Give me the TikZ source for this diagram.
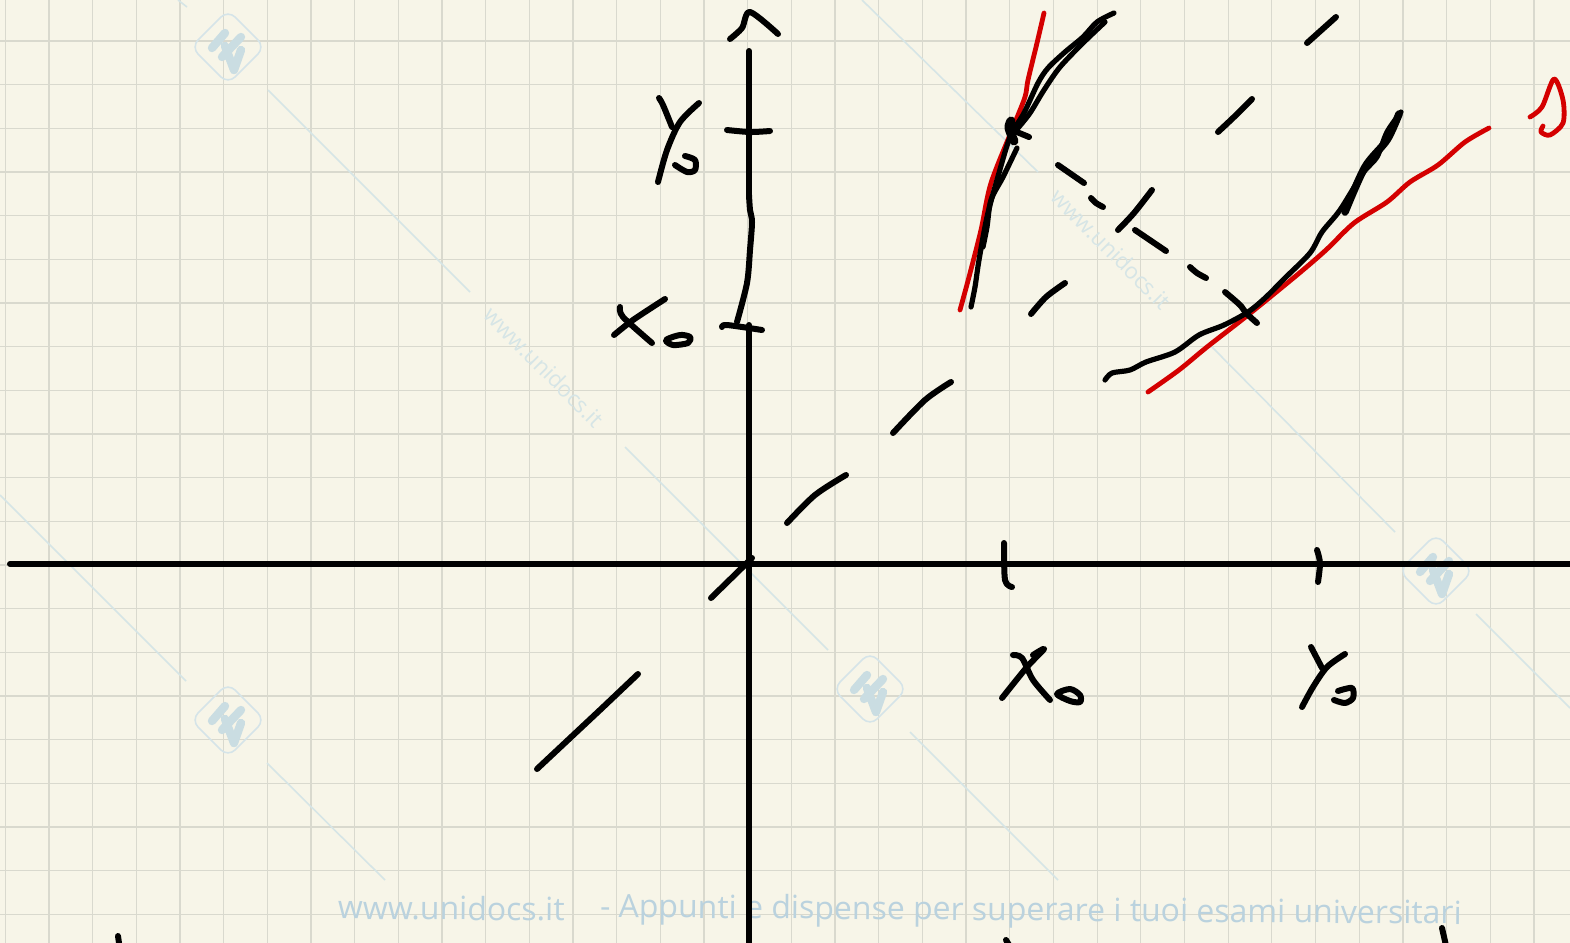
\documentclass[tikz,border=0pt]{standalone}
\usepackage{fontspec}
\setmainfont{Open Sans}
\definecolor{paperBack}{HTML}{F7F5E8}
\definecolor{gridGray}{HTML}{D9D9CE}
\definecolor{markBlue}{HTML}{D6E5E6}
\definecolor{logoBlue}{HTML}{CADDE2}
\definecolor{footBlue}{HTML}{BAD2DE}
\definecolor{inkRed}{HTML}{D40000}
\tikzset{
  gridline/.style={gridGray, line width=0.65pt},
  markline/.style={markBlue, line width=0.8pt},
  ink/.style={black, line width=3pt, line cap=round, line join=round},
  thinink/.style={ink, line width=2.6pt},
  redink/.style={inkRed, line width=2.4pt, line cap=round, line join=round},
  marktext/.style={markBlue, font=\fontsize{11.2}{14}\selectfont, rotate=-45},
  foottext/.style={footBlue, font=\fontsize{16}{18}\selectfont, rotate=-0.45, anchor=west}
}
\begin{document}
\begin{tikzpicture}[x=0.5pt, y=-0.5pt]
  \useasboundingbox (0,0) rectangle (1570,943);
  \fill[paperBack] (0,0) rectangle (1570,943);
  \clip (0,0) rectangle (1570,943);

  % paper grid
  \foreach \k in {0,...,35} {
    \draw[gridline] ({5.4+43.67*\k},0) -- ({5.4+43.67*\k},943);
  }
  \foreach \k in {0,...,20} {
    \draw[gridline] (0,{41+43.67*\k}) -- (1570,{41+43.67*\k});
  }

  % watermark
  \draw[markline] (178,0) -- (187,7);
  \draw[markline] (268,90) -- (470,292);
  \draw[markline] (625,447) -- (828,650);
  \draw[markline] (910,732) -- (1058,880);
  \draw[markline] (0,495) -- (186,681);
  \draw[markline] (267,763) -- (385,880);
  \draw[markline] (862,0) -- (1038,172);
  \draw[markline] (1210,345) -- (1395,532);
  \draw[markline] (1476,614) -- (1570,708);
  \foreach \px/\py in {228/47, 228/720, 870/689, 1436/571} {
    \begin{scope}[shift={(\px,\py)}]
      \draw[logoBlue!80, line width=0.8pt, rounded corners=5pt] (-37,0) -- (0,-37) -- (37,0) -- (0,37) -- cycle;
      \draw[logoBlue, line width=4.2pt, line cap=round, line join=round]
        (-3,-14) -- (-16,1) (13,-10) -- (-6,10) (13,3) -- (6,23) -- (-3,-1);
    \end{scope}
  }
  \node[marktext] (markA) at (544,367) {www.unidocs.it};
  \node[marktext] (markB) at (1111,249) {www.unidocs.it};
  \node[foottext] (footA) at (331,907) {www.unidocs.it};
  \node[foottext] (footB) at (593,909) {- Appunti e dispense per superare i tuoi esami universitari};

  % axes
  \draw[ink] (10,564) -- (1570,564);
  \draw[ink] (749,51) -- (749,198);
  \draw[ink] (749,325) -- (749,943);
  \draw[ink] plot[smooth] coordinates {(749,195) (750,210) (752,222) (750,250) (747,283) (737,322)};
  \draw[ink] plot[smooth] coordinates {(730,39) (742,28) (750,12) (778,34)};
  \draw[ink] plot[smooth] coordinates {(727,130) (750,132) (770,131)};
  \draw[ink] plot[smooth] coordinates {(722,327) (727,325) (762,330)};
  \draw[ink] plot[smooth] coordinates {(1004,543) (1005,580) (1012,587)};
  \draw[ink] plot[smooth] coordinates {(1317,550) (1320,563) (1318,582)};

  % labels on y axis
  \draw[ink] plot[smooth] coordinates {(659,98) (663,105) (672,127)};
  \draw[ink] plot[smooth] coordinates {(699,103) (680,122) (667,150) (658,182)};
  \draw[ink] plot[smooth] coordinates {(675,165) (687,172) (695,170) (695,160) (685,156)};
  \draw[ink] plot[smooth] coordinates {(665,299) (633,320) (614,335)};
  \draw[ink] plot[smooth] coordinates {(620,307) (623,317) (652,343)};
  \draw[ink] plot[smooth cycle] coordinates {(666,340) (680,335) (690,337) (688,343) (673,345)};

  % labels on x axis
  \draw[ink] plot[smooth] coordinates {(1013,655) (1022,658) (1033,680) (1050,700)};
  \draw[ink] plot[smooth] coordinates {(1033,655) (1044,649) (1027,667) (1002,698)};
  \draw[ink] plot[smooth cycle] coordinates {(1057,694) (1070,689) (1080,695) (1080,702) (1070,701)};
  \draw[ink] plot[smooth] coordinates {(1311,647) (1322,668)};
  \draw[ink] plot[smooth] coordinates {(1345,654) (1327,667) (1313,687) (1302,707)};
  \draw[ink] plot[smooth] coordinates {(1334,700) (1345,703) (1353,698) (1352,688) (1338,691)};

  % line y = x
  \draw[ink] (537,769) -- (600,710) -- (638,674);
  \draw[ink] (711,598) -- (752,558);
  \draw[ink] plot[smooth] coordinates {(787,523) (815,495) (846,475)};
  \draw[ink] plot[smooth] coordinates {(893,433) (925,400) (951,382)};
  \draw[ink] plot[smooth] coordinates {(1031,314) (1046,297) (1065,283)};
  \draw[ink] plot[smooth] coordinates {(1118,230) (1134,213) (1152,190)};
  \draw[ink] plot[smooth] coordinates {(1218,132) (1234,117) (1252,99)};
  \draw[ink] (1307,43) -- (1336,17);

  % red curves
  \draw[redink] plot[smooth] coordinates {(1044,13) (1037,43) (1028,80) (1025,97) (1014,125) (991,183) (981,230) (969,277) (960,310)};
  \draw[redink] plot[smooth] coordinates {(1489,128) (1465,142) (1438,165) (1410,182) (1387,202) (1354,223) (1326,250) (1297,275) (1248,315) (1207,347) (1179,370) (1148,392)};
  \draw[redink] plot[smooth] coordinates {(1530,117) (1542,107) (1554,79) (1563,100) (1563,123) (1550,135) (1541,132) (1543,126)};

  % black curves
  \draw[thinink] plot[smooth] coordinates {(1114,13) (1097,22) (1083,37) (1065,52) (1048,68) (1038,83) (1024,113) (1010,137) (997,180) (987,217) (979,260) (975,287) (971,307)};
  \draw[thinink] plot[smooth] coordinates {(1105,22) (1083,43) (1060,67) (1044,90) (1030,113) (1018,128)};
  \draw[thinink] plot[smooth] coordinates {(1017,148) (1003,177) (991,200) (987,227) (983,247)};
  \draw[ink, line width=4.5pt] plot[smooth] coordinates {(1011,121) (1009,128) (1014,141)};
  \draw[ink] (1012,130) -- (1029,137);
  \draw[thinink] plot[smooth] coordinates {(1401,112) (1387,132) (1377,157) (1363,173) (1340,210) (1322,232) (1310,253) (1285,278) (1265,298) (1248,312) (1224,325) (1199,335) (1175,352) (1146,362) (1130,370) (1112,373) (1105,380)};
  \draw[ink, line width=3.8pt] plot[smooth] coordinates {(1399,114) (1387,140) (1365,167) (1345,212)};

  % dashed segment
  \draw[ink] (1058,165) -- (1084,183);
  \draw[ink] plot[smooth] coordinates {(1091,198) (1096,203) (1103,207)};
  \draw[ink] (1135,230) -- (1166,251);
  \draw[ink] plot[smooth] coordinates {(1190,267) (1197,273) (1206,278)};
  \draw[ink] plot[smooth] coordinates {(1225,292) (1240,305) (1246,313) (1257,323)};

  % strokes cut by the lower edge
  \draw[ink] (118,936) -- (120,950);
  \draw[ink] (1006,940) -- (1012,950);
  \draw[ink] (1442,928) -- (1447,950);
\end{tikzpicture}
\end{document}
